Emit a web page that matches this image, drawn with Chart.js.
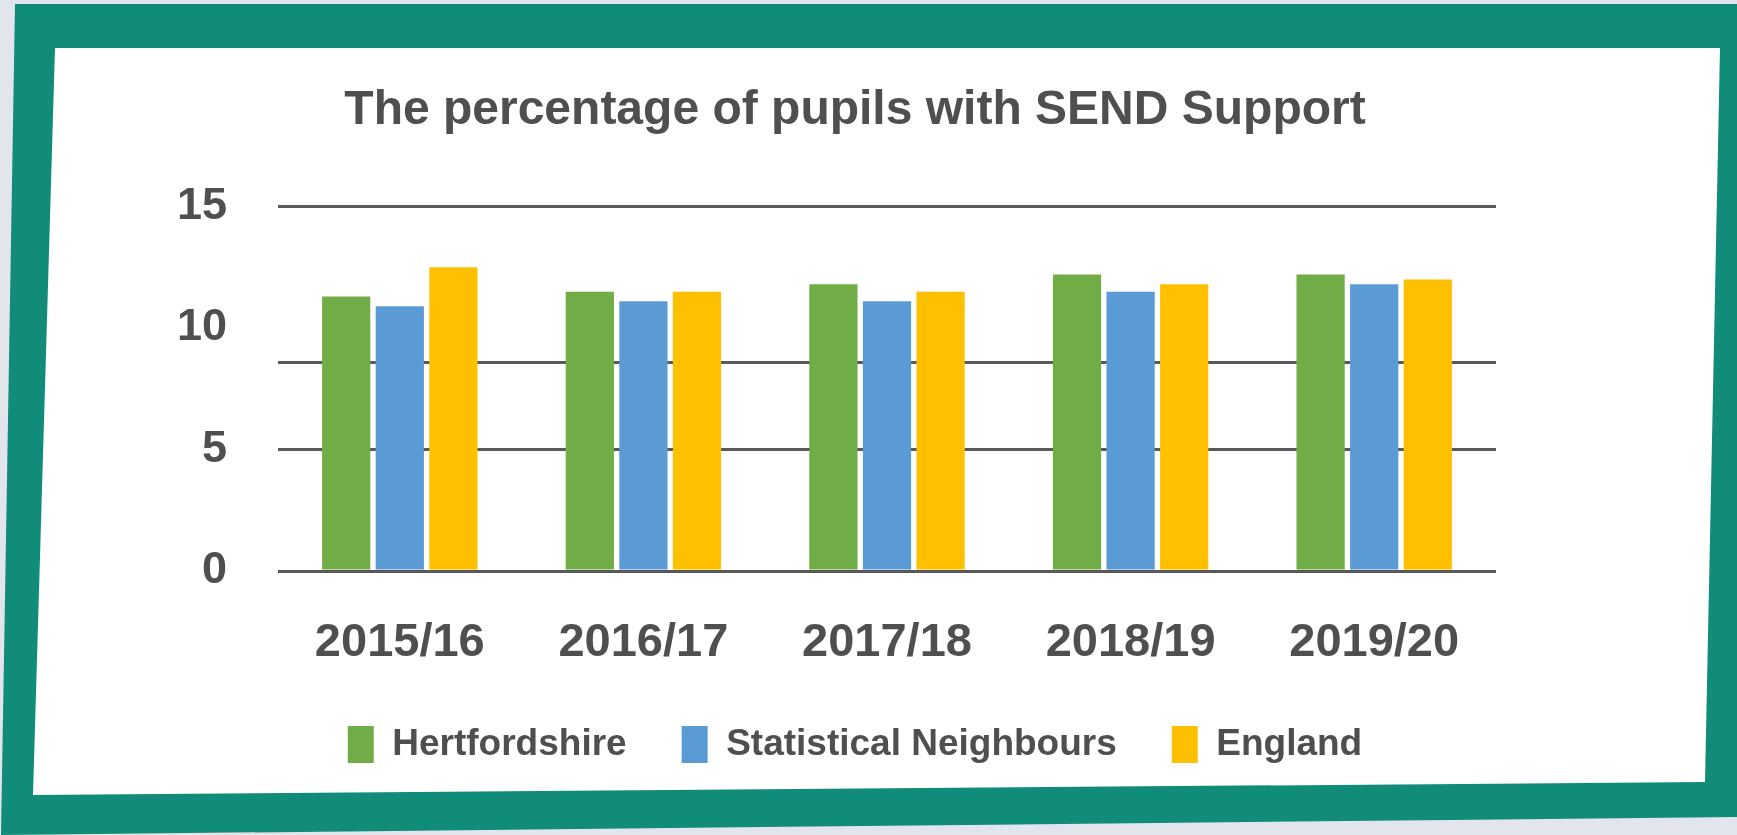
<!DOCTYPE html>
<html>
<head>
<meta charset="utf-8">
<title>SEND Support</title>
<script src="https://cdn.jsdelivr.net/npm/chart.js@4.4.0/dist/chart.umd.min.js"></script>
<style>
    body { margin: 0; background: #e2e5ec; width: 1737px; height: 835px; overflow: hidden; position: relative; }
    .frame { position: absolute; left: 0; top: 0; width: 1737px; height: 835px; background: #108c78;
             clip-path: polygon(15px 4px, 1737px 4px, 1737px 817px, 1px 835px); }
    .card { position: absolute; left: 0; top: 0; width: 1737px; height: 835px; background: #ffffff;
            clip-path: polygon(55px 48px, 1720px 48px, 1705px 782px, 33px 795px); }
    #wrap { position: absolute; left: 0; top: 0; width: 1737px; height: 835px; }
</style>
</head>
<body>
<div class="frame"></div>
<div class="card"></div>
<div id="wrap"><canvas id="sendChart"></canvas></div>

<script>
// data
const years = ['2015/16', '2016/17', '2017/18', '2018/19', '2019/20'];
const hertfordshire = [11.3, 11.5, 11.8, 12.2, 12.2];
const statNeighbours = [10.9, 11.1, 11.1, 11.5, 11.8];
const england = [12.5, 11.5, 11.5, 11.8, 12.0];

// y axis: labelled ticks, and the values where the picture draws its grid lines
const tickLabels = [0, 5, 10, 15];
const gridValues = [0, 5, 8.6, 15];

const textColor = '#4f4f4f';
const fontFam = '"Liberation Sans", Arial, sans-serif';

const ctx = document.getElementById('sendChart').getContext('2d');

new Chart(ctx, {
    type: 'bar',
    data: {
        labels: years,
        datasets: [
            { label: 'Hertfordshire', data: hertfordshire, backgroundColor: '#70ad47' },
            { label: 'Statistical Neighbours', data: statNeighbours, backgroundColor: '#5b9bd5' },
            { label: 'England', data: england, backgroundColor: '#ffc000' }
        ]
    },
    options: {
        responsive: true,
        maintainAspectRatio: false,
        animation: false,
        categoryPercentage: 0.66,
        barPercentage: 0.9,
        layout: { padding: { left: 177, right: 204, top: 0, bottom: 62 } },
        scales: {
            x: {
                grid: { display: false },
                border: { display: false },
                afterFit: (axis) => { axis.height = 100; },
                ticks: {
                    color: textColor,
                    padding: 41,
                    font: { family: fontFam, size: 47, weight: 'bold', lineHeight: 1.0 }
                }
            },
            y: {
                min: 0,
                max: 15,
                afterBuildTicks: (axis) => {
                    // merge label ticks and grid line values into one list
                    const vals = [...new Set([...tickLabels, ...gridValues])].sort((a, b) => a - b);
                    axis.ticks = vals.map(v => ({ value: v }));
                },
                afterFit: (axis) => { axis.width = 101; },
                border: { display: false },
                grid: {
                    drawTicks: false,
                    lineWidth: 3,
                    color: (c) => gridValues.includes(c.tick.value) ? '#595959' : 'rgba(0,0,0,0)'
                },
                ticks: {
                    color: textColor,
                    padding: 51,
                    font: { family: fontFam, size: 45, weight: 'bold' },
                    callback: (v) => tickLabels.includes(v) ? v : ''
                }
            },
            // empty right-hand space so title and legend sit where they do in the picture
            yRight: {
                position: 'right',
                grid: { display: false },
                border: { display: false },
                ticks: { display: false },
                afterFit: (axis) => { axis.width = 37; }
            }
        },
        plugins: {
            title: {
                display: true,
                text: 'The percentage of pupils with SEND Support',
                color: textColor,
                font: { family: fontFam, size: 48, weight: 'bold' },
                padding: { top: 82, bottom: 67 }
            },
            legend: {
                position: 'bottom',
                labels: {
                    color: textColor,
                    boxWidth: 26,
                    boxHeight: 37,
                    padding: 55,
                    font: { family: fontFam, size: 37, weight: 'bold' }
                }
            },
            tooltip: { enabled: false }
        }
    }
});
</script>
</body>
</html>
